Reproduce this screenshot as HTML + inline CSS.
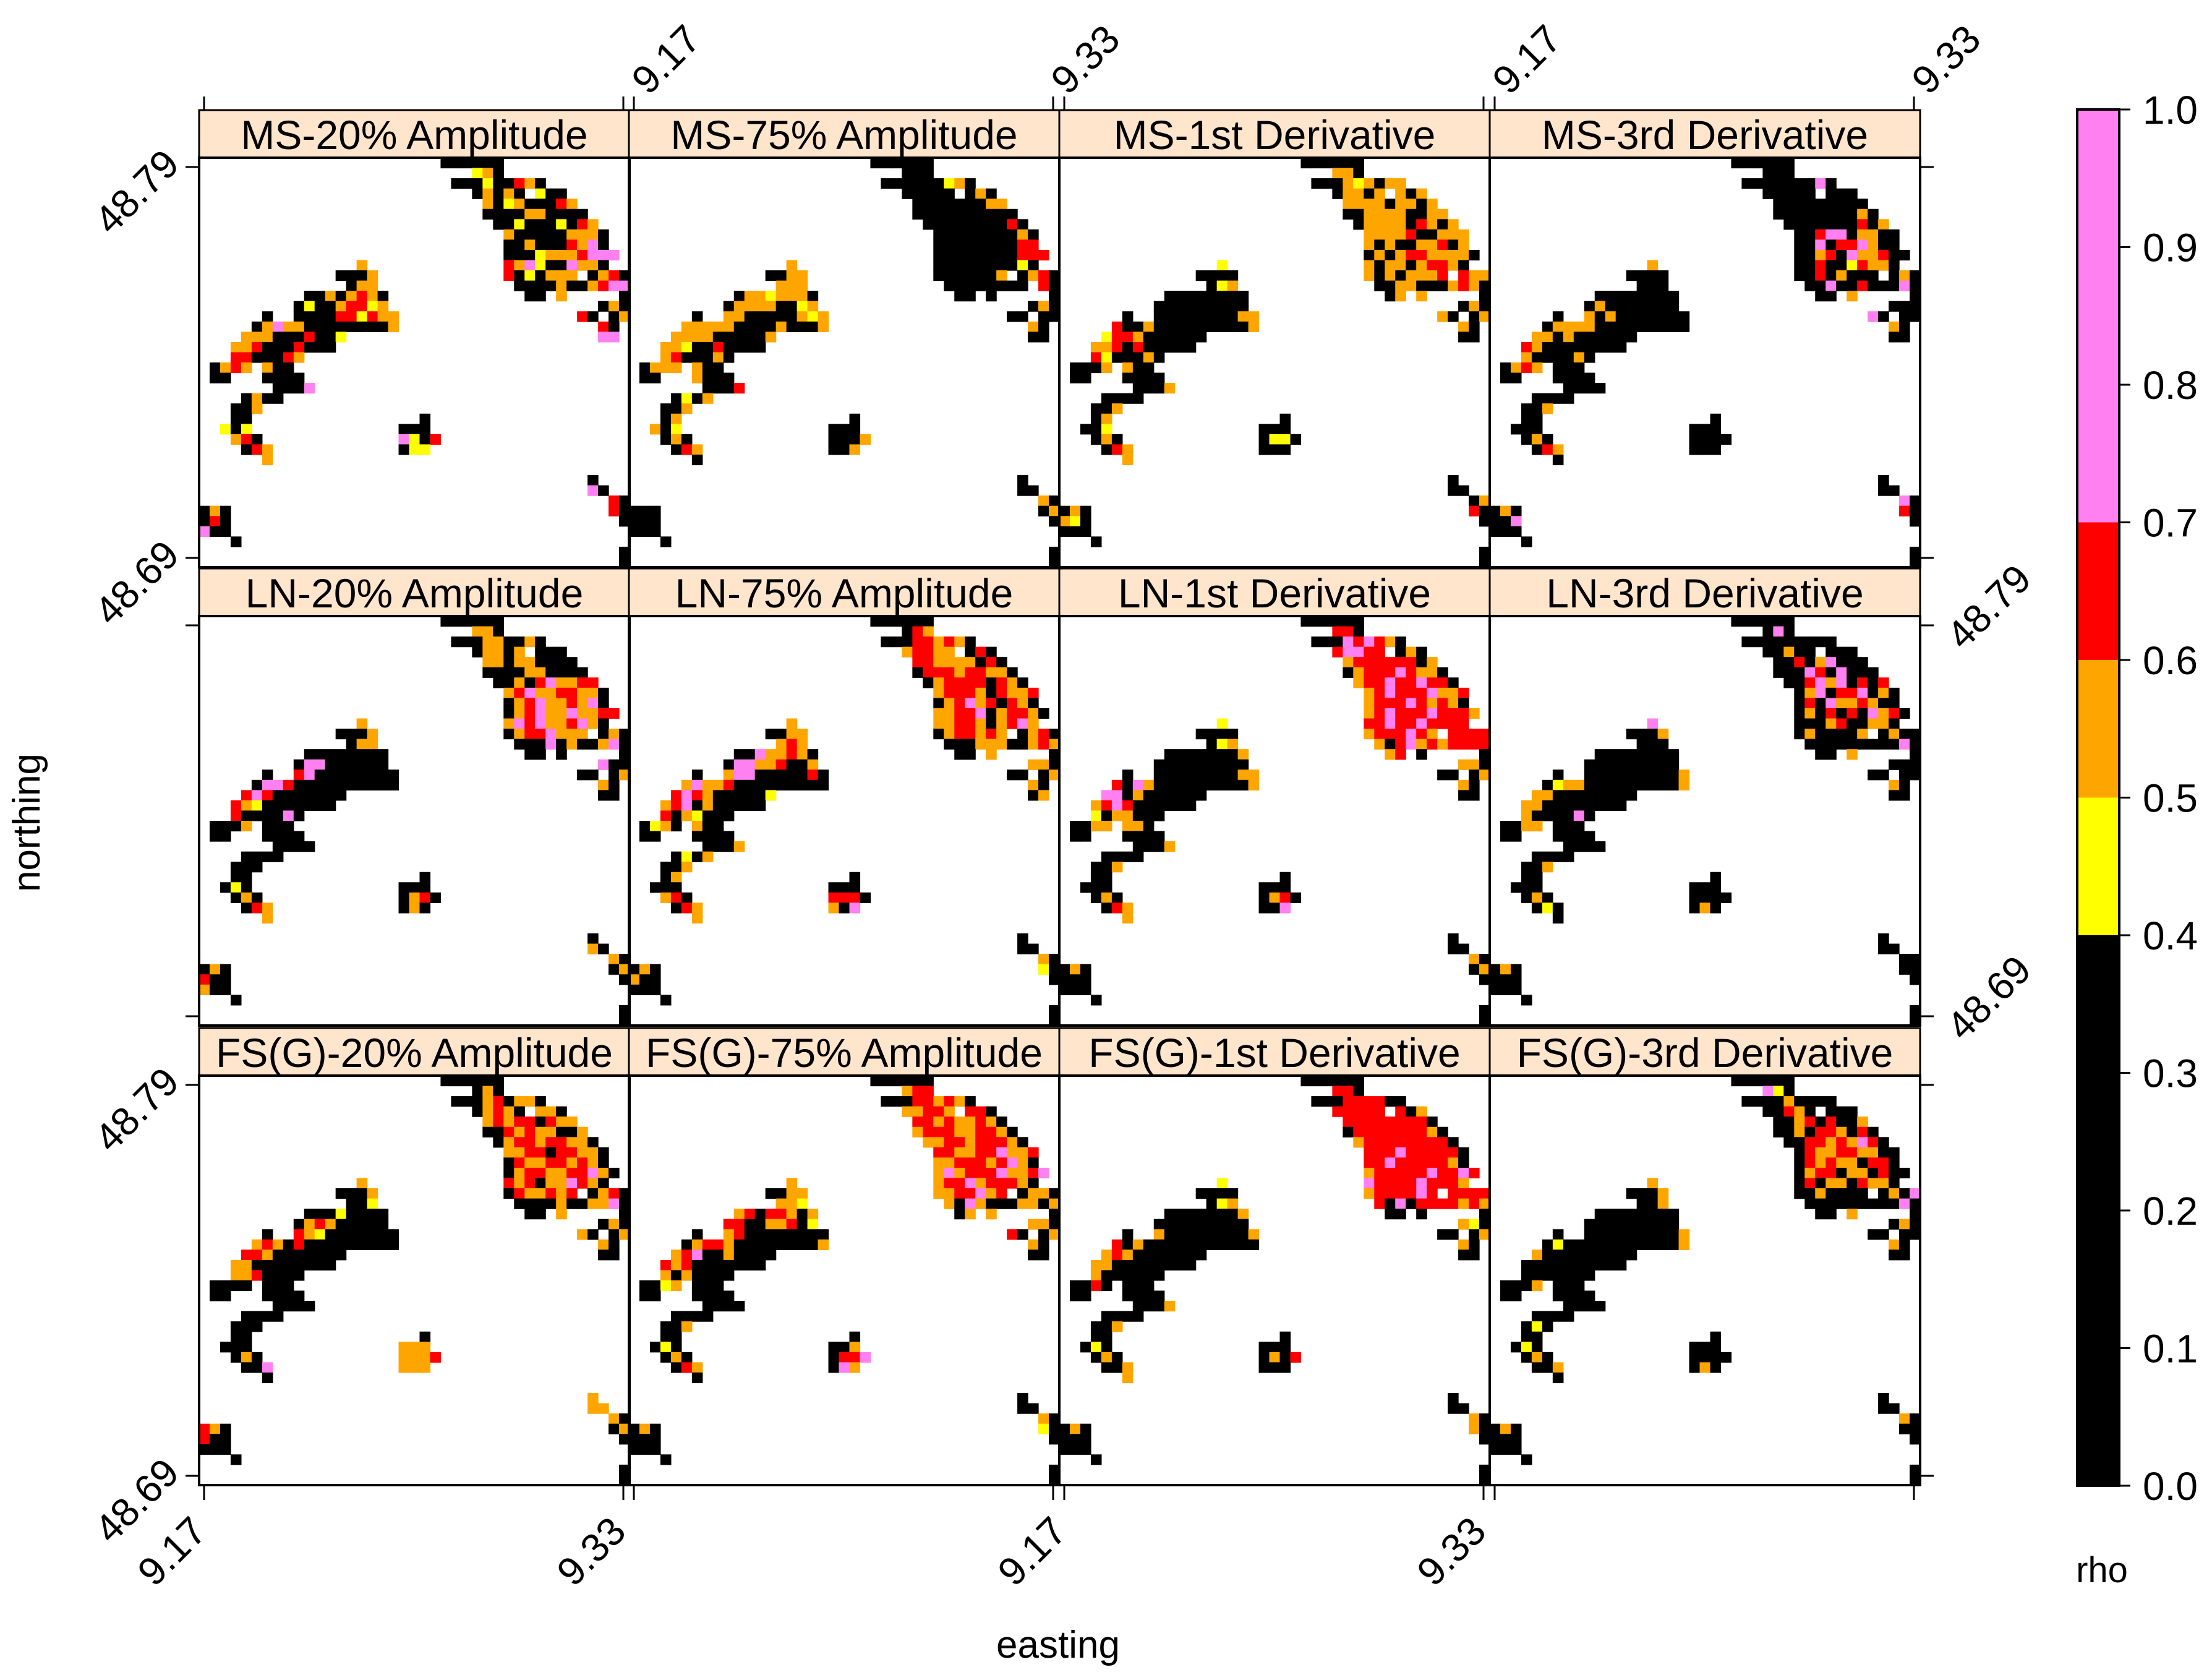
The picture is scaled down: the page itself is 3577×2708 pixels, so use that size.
<!DOCTYPE html>
<html><head><meta charset="utf-8"><style>
html,body{margin:0;padding:0;background:#fff}
svg{display:block}
text{font-family:"Liberation Sans",Arial,sans-serif;fill:#000}
</style></head><body>
<svg id="chart" xmlns="http://www.w3.org/2000/svg" width="3577" height="2708" viewBox="0 0 3577 2708">
<rect x="0" y="0" width="3577" height="2708" fill="#fff"/>
<g id="cells"></g>
<g id="frames"></g>
<g id="axes"></g>
<g id="legend"></g>
<text x="1711" y="2680" font-size="62" text-anchor="middle">easting</text>
<text x="0" y="0" font-size="62" text-anchor="middle" transform="translate(64,1330) rotate(-90)">northing</text>
<text x="3399" y="2558" font-size="58" text-anchor="middle">rho</text>
</svg>
<script>
// ---- data ----
const rowMethods = ["MS", "LN", "FS(G)"];
const colMeasures = ["20% Amplitude", "75% Amplitude", "1st Derivative", "3rd Derivative"];
const xTicks = [9.17, 9.33];
const yTicks = [48.79, 48.69];
const legendTicks = [0.0, 0.1, 0.2, 0.3, 0.4, 0.5, 0.6, 0.7, 0.8, 0.9, 1.0];
const legendBreaks = [0.0, 0.4, 0.5, 0.6, 0.7, 1.0];
const legendColors = ["#000000", "#FFFF00", "#FFA500", "#FF0000", "#FF80F0"];
// cell codes -> rho class value
const codeValues = {k: 0.2, y: 0.45, o: 0.55, r: 0.65, p: 0.85};
// grid cells per panel: "row:col:codes" ('.' = no data)
const pMS20 = "0:23:kkkkkk 1:26:yok 2:24:kkkykkrok 3:26:kokok.ykk 4:27:okyokkkro 5:27:kkkkookkkk 6:28:kkykkkykro 7:29:okkkkkoook 8:29:kkokkkropk 9:29:kkkyooorppp 10:15:o 10:29:ropykkpook 11:13:kkko 11:29:rkykooo.kork 12:14:koo 12:30:kkkkokkorpp 13:10:kkokorok 13:31:kk.o.....k 14:9:kykkorryo 14:38:kok 15:6:k..kkkkrryroo 15:36:rk.ko 16:5:kopookkkkkkkko 16:38:rk 17:4:oookkkrkky 17:38:pp 18:3:oorkkkrkkk 19:3:rrkkkro 20:1:koro.okk 21:1:kk...kkkk 22:7:kkkp 23:4:kokk 24:3:kko 25:3:kk 25:21:k 26:2:yky 26:19:kkk 27:3:ork 27:19:pykr 28:4:kro 28:19:kyy 29:6:o 31:37:k 32:37:pk 33:39:rk 34:0:kok 34:39:rk 35:0:krk 35:40:k 36:0:pkk 37:3:k 38:40:k 39:40:k".split(" ");
const pMS75 = "0:23:kkkkkk 1:26:kkk 2:24:kkkkkkyok 3:26:kkkkk.kok 4:27:kkkkkkkoo 5:27:kkkkkkkkkk 6:28:kkkkkkkkrk 7:29:kkkkkkkkok 8:29:kkkkkkkkrr 9:29:kkkkkkkkrrr 10:15:o 10:29:kkkkkkkkyk 11:13:kkoo 11:29:kkkkkko.kork 12:14:ooo 12:30:kkkkkkkk.rk 13:10:kooyoook 13:31:kk.k.....k 14:9:kooookkyo 14:38:kok 15:6:k..ookkkkkoyo 15:36:kk.kk 16:5:oooookkkkokkko 16:38:ok 17:4:ooookkkkko 17:38:kk 18:3:ooykkrkkkk 19:3:orkkkok 20:1:kooo.okk 21:1:kk...okkk 22:7:kkkr 23:4:kyko 24:3:kko 25:3:ko 25:21:k 26:2:oky 26:19:kkk 27:3:kok 27:19:kkko 28:4:kro 28:19:kko 29:6:k 31:37:k 32:37:kk 33:39:ok 34:0:kkk 34:39:ko 35:0:kkk 35:40:k 36:0:kkk 37:3:k 38:40:k 39:40:k".split(" ");
const pMS1 = "0:23:kkkkkk 1:26:ook 2:24:kkkoyokoo 3:26:kooko.oko 4:27:ooookooko 5:27:kkooookkoo 6:28:kooookroko 7:29:oooorkkooo 8:29:okokkoorko 9:29:kokorrooook 10:15:y 10:29:okookorrok 11:13:kkkk 11:29:okokooor.roo 12:14:kyo 12:30:kkookkkorok 13:10:kkkkkkkk 13:31:ko.o.....k 14:9:kkkkkkkkk 14:38:kok 15:6:k..kkkkkkkkoo 15:36:ok.ko 16:5:rkkokkkkkkkkko 16:38:ok 17:4:yrrokkkkkk 17:38:kk 18:3:oorkrkkkkk 19:3:rykkkok 20:1:kkko.okk 21:1:kk...kkkk 22:7:kkko 23:4:kkkk 24:3:kko 25:3:ko 25:21:k 26:2:kky 26:19:kkk 27:3:kok 27:19:kyyk 28:4:kro 28:19:kkk 29:6:o 31:37:k 32:37:kk 33:39:ko 34:0:kok 34:39:rk 35:0:oyk 35:40:k 36:0:kkk 37:3:k 38:40:k 39:40:k".split(" ");
const pMS3 = "0:23:kkkkkk 1:26:kkk 2:24:kkkkkkkpk 3:26:kkkkk.kkk 4:27:kkkkkkkkk 5:27:kkkkkkkkok 6:28:kkkkkkkrko 7:29:kkrppkookk 8:29:kkpkrrpokk 9:29:kkorkpoorkk 10:15:o 10:29:kkrkkyrook 11:13:kkkk 11:29:kkrkokkk.kok 12:14:kkk 12:30:kkpkkrkkkpk 13:10:kkkkkkkk 13:31:kk.o.....k 14:9:kokkkkkkk 14:38:kkk 15:6:k..okokkkkkkk 15:36:pk.kk 16:5:kooookkkkkkkkk 16:38:ok 17:4:ookokkkkkk 17:38:kk 18:3:rokkkkkkkk 19:3:okkkkok 20:1:koro.kkk 21:1:kk...kkkk 22:7:kkkk 23:4:kkkk 24:3:kko 25:3:kk 25:21:k 26:2:kkk 26:19:kkk 27:3:kok 27:19:kkkk 28:4:kro 28:19:kkk 29:6:k 31:37:k 32:37:kk 33:39:pk 34:0:kok 34:39:rk 35:0:kkp 35:40:k 36:0:kkk 37:3:k 38:40:k 39:40:k".split(" ");
const pLN20 = "0:23:kkkkkk 1:26:ook 2:24:kkkookkok 3:26:kooko.kkk 4:27:ookookkkk 5:27:kkkkookkkk 6:28:kkokrpoorr 7:29:orpoorrook 8:29:korpooropk 9:29:korpoopoorr 10:15:o 10:29:oprpoorpok 11:13:kkko 11:29:korrpooo.kok 12:14:koo 12:30:kkkpkokkopk 13:10:kkkkkkkk 13:31:kk.k.....k 14:9:kppkkkkkk 14:38:pkk 15:6:k..rpkkkkkkkk 15:36:kk.ko 16:5:kpprkkkkkkkkkk 16:38:ok 17:4:rprkkkkkkk 17:38:kk 18:3:roykkkkkkk 19:3:rkkkkpk 20:1:kkko.kkk 21:1:kk...kkkk 22:7:kkkk 23:4:kkkk 24:3:kkk 25:3:kk 25:21:k 26:2:kyk 26:19:kkk 27:3:kok 27:19:kork 28:4:kro 28:19:kok 29:6:o 31:37:k 32:37:ok 33:39:ok 34:0:kok 34:39:ko 35:0:rkk 35:40:k 36:0:okk 37:3:k 38:40:k 39:40:k".split(" ");
const pLN75 = "0:23:kkkkkk 1:26:kro 2:24:kkkrrorok 3:26:orroo.krk 4:27:rrooookrk 5:27:krrrorrook 6:28:korrrrkrok 7:29:orrrokroor 8:29:korporkrok 9:29:oorrpkorrok 10:15:o 10:29:oorrokorpo 11:13:kkoo 11:29:korroro.kork 12:14:oro 12:30:kkkoookkoro 13:10:kkpoorok 13:31:kk.o.....k 14:9:kppoorkko 14:38:ook 15:6:k..oppkkkkkrk 15:36:kk.ko 16:5:opoorkkkkkkkkk 16:38:ok 17:4:rprokkkkky 17:38:ko 18:3:orpkokkkkk 19:3:rkoykkk 20:1:kyok.okk 21:1:kk...kkkk 22:7:kkko 23:4:kyko 24:3:kko 25:3:ko 25:21:k 26:2:kkk 26:19:kkk 27:3:ork 27:19:rrrk 28:4:kro 28:19:okp 29:6:o 31:37:k 32:37:kk 33:39:ok 34:0:kok 34:39:yk 35:0:okk 35:40:k 36:0:kkk 37:3:k 38:40:k 39:40:k".split(" ");
const pLN1 = "0:23:kkkkkk 1:26:rrk 2:24:kkkprprok 3:26:rpprr.kok 4:27:orrrrrrko 5:27:korrrprook 6:28:orrprrprrk 7:29:orprrrpoor 8:29:orrrprorok 9:29:orprrrprrro 10:15:y 10:29:rrprrprrrr 11:13:kkkk 11:29:orrrpro.rrrr 12:14:kyo 12:30:okrpororrrr 13:10:kkkkkkko 13:31:or.k.....k 14:9:kkkkkkkkk 14:38:ook 15:6:k..kkkkkkkkoo 15:36:kk.ko 16:5:rkpokkkkkkkkko 16:38:ok 17:4:ppkokkkkkk 17:38:kk 18:3:orprkkkkkk 19:3:ykookkk 20:1:kkoo.ook 21:1:kk...kkkk 22:7:kkko 23:4:kkkk 24:3:kko 25:3:kk 25:21:k 26:2:kkk 26:19:kkk 27:3:kok 27:19:kork 28:4:kro 28:19:kkp 29:6:o 31:37:k 32:37:kk 33:39:ok 34:0:kok 34:39:ko 35:0:kkk 35:40:k 36:0:kkk 37:3:k 38:40:k 39:40:k".split(" ");
const pLN3 = "0:23:kkkkkk 1:26:kpk 2:24:kkkkkkkkk 3:26:kkokk.kkk 4:27:kkrkopkkk 5:27:kkkprkpkkk 6:28:kkrpopkrkr 7:29:kopkrrpkok 8:29:krkpoorokk 9:29:kokrkrkpork 10:15:p 10:29:kkkorkkook 11:13:kkko 11:29:kokkkko.kokk 12:14:kkk 12:30:kkkkkkkkkpk 13:10:kkkkkkkk 13:31:kk.o.....k 14:9:kkkkkkkkk 14:38:kkk 15:6:k..kkkkkkkkko 15:36:kk.kk 16:5:kyookkkkkkkkko 16:38:ok 17:4:ookkkkkkkk 17:38:kk 18:3:ookkkkkkkk 19:3:okkkkpk 20:1:kkoo.kkk 21:1:kk...kkkk 22:7:kkkk 23:4:kkkk 24:3:kko 25:3:kk 25:21:k 26:2:kkk 26:19:kkk 27:3:kok 27:19:kkkk 28:4:kyk 28:19:kok 29:6:k 31:37:k 32:37:kk 33:39:kk 34:0:kok 34:39:kk 35:0:kkk 35:40:k 36:0:kkk 37:3:k 38:40:k 39:40:k".split(" ");
const pFS20 = "0:23:kkkkkk 1:26:kok 2:24:kkkorkook 3:26:korok.ook 4:27:ororrkroo 5:27:kkrorookko 6:28:korrorrook 7:29:oorrkrrook 8:29:kroorrorok 9:29:korroorrpok 10:15:o 10:29:rorkooprok 11:13:kkko 11:29:krooror.kork 12:14:kky 12:30:kkkkokkoopk 13:10:kkkykkkk 13:31:kk.o.....k 14:9:korokkkkk 14:38:kok 15:6:k..roykkkkkkk 15:36:ok.ko 16:5:orokrkkkkkkkkk 16:38:ok 17:4:rrokkkkkkk 17:38:kk 18:3:ookkkkkkkk 19:3:oorkkkk 20:1:kkkk.kkk 21:1:kk...kkkk 22:7:kkkk 23:4:kkkk 24:3:kkk 25:3:kk 25:21:k 26:2:kkk 26:19:ooo 27:3:kok 27:19:ooor 28:4:kkp 28:19:ooo 29:6:k 31:37:o 32:37:oo 33:39:ok 34:0:rok 34:39:ko 35:0:rkk 35:40:k 36:0:kkk 37:3:k 38:40:k 39:40:k".split(" ");
const pFS75 = "0:23:kkkkkk 1:26:orr 2:24:kkkrrorok 3:26:oorro.rrk 4:27:rroroorok 5:27:orrroorrok 6:28:oorrorrrok 7:29:rroorrpoor 8:29:oorrrorpok 9:29:oporrrpoorp 10:15:o 10:29:orrporrrok 11:13:kkoo 11:29:oorrpor.kook 12:14:ooy 12:30:okpokkkooko 13:10:orkrroko 13:31:ko.o.....k 14:9:rrkkoorky 14:38:ook 15:6:k..orkkkkkkkk 15:36:rk.ko 16:5:korrokkkkkkkko 16:38:ok 17:4:orpkkokkkk 17:38:kk 18:3:rorkkkkkkk 19:3:okokkkk 20:1:kkyo.kkk 21:1:kk...kkkk 22:7:kkkk 23:4:kkkk 24:3:kko 25:3:kk 25:21:k 26:2:kyk 26:19:kko 27:3:kok 27:19:krrp 28:4:kro 28:19:kpo 29:6:k 31:37:k 32:37:kk 33:39:ok 34:0:kok 34:39:yk 35:0:kkk 35:40:k 36:0:kkk 37:3:k 38:40:k 39:40:k".split(" ");
const pFS1 = "0:23:kkkkkk 1:26:rrk 2:24:kkkrrrrkk 3:26:rrrrr.rko 4:27:rrrrrrrrk 5:27:krrrrrrrok 6:28:orrrrrrrrk 7:29:rrrprrrrrk 8:29:rrprrrrrok 9:29:orrrrrprrpr 10:15:y 10:29:prrrrprrro 11:13:kkkk 11:29:orrrrpr.rrrr 12:14:kyo 12:30:rkpkrrrroro 13:10:kkkkkkko 13:31:kk.k.....k 14:9:kkkkkkkkk 14:38:oyk 15:6:k..okkkkkkkko 15:36:kk.ko 16:5:rkokkkkkkkkkkk 16:38:ok 17:4:orokkkkkkk 17:38:kk 18:3:ookkkkkkkk 19:3:okkkkkk 20:1:kkrk.kkk 21:1:kk...kkkk 22:7:kkko 23:4:kkkk 24:3:kko 25:3:kk 25:21:k 26:2:kyk 26:19:kkk 27:3:kok 27:19:kokr 28:4:kko 28:19:kkk 29:6:o 31:37:k 32:37:kk 33:39:ok 34:0:kok 34:39:ok 35:0:kkk 35:40:k 36:0:kkk 37:3:k 38:40:k 39:40:k".split(" ");
const pFS3 = "0:23:kkkkkk 1:26:pyk 2:24:kkkkokkkk 3:26:kkrok.kkk 4:27:kkorkrkko 5:27:kkokrrokrk 6:28:kkrroroprk 7:29:kroorrookk 8:29:krorookrrk 9:29:korrkookrkk 10:15:o 10:29:krkookrook 11:13:kkko 11:29:kkokkkk.kokp 12:14:kko 12:30:kkkkkkkkkpk 13:10:kkkkkkkk 13:31:kk.o.....k 14:9:kkkkkkkkk 14:38:kok 15:6:k..kkkkkkkkko 15:36:kk.kk 16:5:kykkkkkkkkkkko 16:38:ok 17:4:okkkkkkkkk 17:38:kk 18:3:kkkkkkkkkk 19:3:kkkkkkk 20:1:kkko.kkk 21:1:kk...kkkk 22:7:kkkk 23:4:kkkk 24:3:kyk 25:3:kk 25:21:k 26:2:kyk 26:19:kkk 27:3:kok 27:19:kkkk 28:4:kko 28:19:kok 29:6:k 31:37:k 32:37:kk 33:39:ok 34:0:kok 34:39:kk 35:0:kkk 35:40:k 36:0:kkk 37:3:k 38:40:k 39:40:k".split(" ");
const panelData = [[pMS20, pMS75, pMS1, pMS3], [pLN20, pLN75, pLN1, pLN3], [pFS20, pFS75, pFS1, pFS3]];

// ---- layout ----
const NS = "http://www.w3.org/2000/svg";
const NCOL = 41, NROW = 40;
const colLefts = [322, 1017, 1713, 2409];
const panelW = 696;
const stripTops = [178, 919, 1662];
const stripH = 77;
const panelH = 662;
const xDom = [9.16811, 9.33236];
const yDom = [48.79237, 48.68763];
function mk(tag, attrs, parent) { const e = document.createElementNS(NS, tag); for (const k in attrs) e.setAttribute(k, attrs[k]); parent.appendChild(e); return e; }
function colorFor(v) { for (let i = 0; i < legendColors.length; i++) { if (v >= legendBreaks[i] && v < legendBreaks[i + 1]) return legendColors[i]; } return legendColors[legendColors.length - 1]; }
function xScale(c, lon) { return colLefts[c] + (lon - xDom[0]) / (xDom[1] - xDom[0]) * panelW; }
function yScale(r, lat) { const top = stripTops[r] + stripH; return top + (lat - yDom[0]) / (yDom[1] - yDom[0]) * panelH; }

const gCells = document.getElementById("cells");
const gFrames = document.getElementById("frames");
const gAxes = document.getElementById("axes");
const cw = panelW / NCOL, ch = panelH / NROW;

for (let r = 0; r < 3; r++) {
  for (let c = 0; c < 4; c++) {
    const left = colLefts[c], stripTop = stripTops[r], top = stripTop + stripH;
    const g = mk("g", {}, gCells);
    
    
    panelData[r][c].forEach(seg => {
      const parts = seg.split(":");
      const row = +parts[0], col0 = +parts[1], codes = parts[2];
      for (let i = 0; i < codes.length; i++) {
        const ch0 = codes[i];
        if (!(ch0 in codeValues)) continue;
        const v = codeValues[ch0];
        const cell = mk("rect", { x: (left + (col0 + i) * cw).toFixed(2), y: (top + row * ch).toFixed(2), width: (cw + 0.6).toFixed(2), height: (ch + 0.6).toFixed(2), fill: colorFor(v) }, g);
        
        
      }
    });
    const strip = mk("rect", { x: left, y: stripTop, width: panelW, height: stripH, fill: "#FFE5CC", stroke: "#000", "stroke-width": 3 }, gFrames);
    
    
    const st = mk("text", { x: left + panelW / 2, y: stripTop + 63, "font-size": 66, "text-anchor": "middle" }, gFrames);
    st.textContent = rowMethods[r] + "-" + colMeasures[c];
    
    
    const fr = mk("rect", { x: left, y: top, width: panelW, height: panelH, fill: "none", stroke: "#000", "stroke-width": 4 }, gFrames);
    
    
    xTicks.forEach(t => {
      const x = xScale(c, t);
      if (r === 0) { const tk = mk("line", { x1: x, x2: x, y1: stripTop, y2: stripTop - 22, stroke: "#000", "stroke-width": 3 }, gAxes);   }
      if (r === 2) { const tk = mk("line", { x1: x, x2: x, y1: top + panelH, y2: top + panelH + 24, stroke: "#000", "stroke-width": 3 }, gAxes);   }
    });
    yTicks.forEach(t => {
      const y = yScale(r, t);
      if (c === 0) { const tk = mk("line", { x1: left, x2: left - 22, y1: y, y2: y, stroke: "#000", "stroke-width": 3 }, gAxes);   }
      if (c === 3) { const tk = mk("line", { x1: left + panelW, x2: left + panelW + 22, y1: y, y2: y, stroke: "#000", "stroke-width": 3 }, gAxes);   }
    });
  }
}
function rotLabel(txt, cx, cy, name) {
  const t = mk("text", { x: 0, y: 0, "font-size": 64, "text-anchor": "middle", "dominant-baseline": "central", transform: "translate(" + cx + "," + cy + ") rotate(-45)" }, gAxes);
  t.textContent = txt;
  
  
}
const xFmt = v => v.toFixed(2);
[0, 2].forEach(c => xTicks.forEach(t => rotLabel(xFmt(t), xScale(c, t) - 52, 2508, 'x-tick-label')));
[1, 3].forEach(c => xTicks.forEach(t => rotLabel(xFmt(t), xScale(c, t) + 52, 96, 'x-tick-label')));
[0, 2].forEach(r => yTicks.forEach(t => rotLabel(xFmt(t), 221, yScale(r, t) + 40, 'y-tick-label')));
yTicks.forEach(t => rotLabel(xFmt(t), 3216, yScale(1, t) - 30, 'y-tick-label'));

const gLeg = document.getElementById("legend");
const lx = 3359, lw = 68, ly0 = 2402, ly1 = 177;
const ly = v => ly0 + (ly1 - ly0) * v;
for (let i = 0; i < legendColors.length; i++) {
  const b = mk("rect", { x: lx, y: ly(legendBreaks[i + 1]), width: lw, height: ly(legendBreaks[i]) - ly(legendBreaks[i + 1]), fill: legendColors[i] }, gLeg);
  
  
}
const lf = mk("rect", { x: lx, y: ly1, width: lw, height: ly0 - ly1, fill: "none", stroke: "#000", "stroke-width": 4 }, gLeg);


legendTicks.forEach(v => {
  const tk = mk("line", { x1: lx + lw, x2: lx + lw + 18, y1: ly(v), y2: ly(v), stroke: "#000", "stroke-width": 3 }, gLeg);
  
  
  const t = mk("text", { x: 3465, y: ly(v) + 23, "font-size": 64 }, gLeg);
  t.textContent = v.toFixed(1);
  
  
});
</script>
</body></html>
